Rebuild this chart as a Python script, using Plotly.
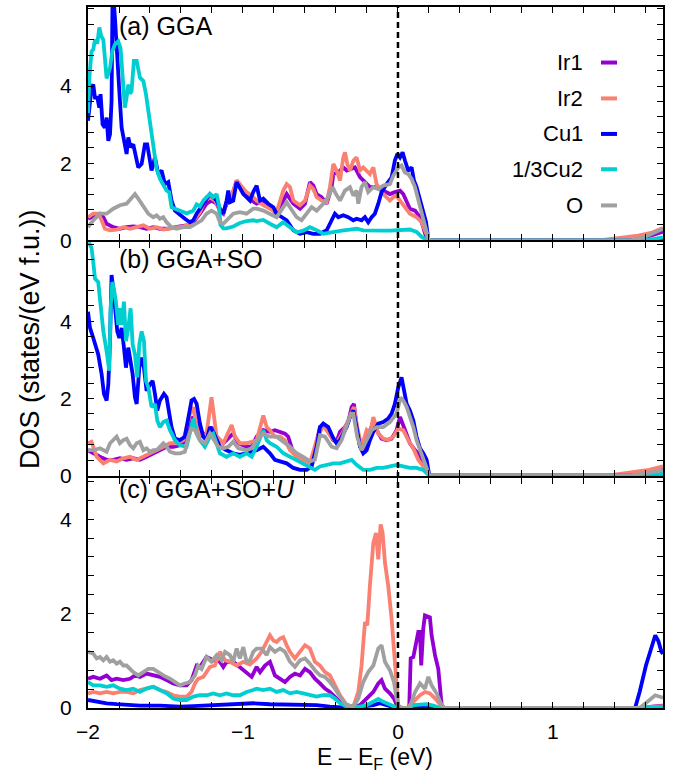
import plotly.graph_objects as go

# ---------------------------------------------------------------------------
# Partial DOS, (energy relative to E_F in eV, states/(eV f.u.)) pairs
# ---------------------------------------------------------------------------

# (a) GGA
ir1_gga = [(-2.000, 0.56), (-1.966, 0.62), (-1.923, 0.69), (-1.901, 0.60), (-1.880, 0.43), (-1.837, 0.34),
           (-1.794, 0.30), (-1.751, 0.34), (-1.708, 0.36), (-1.665, 0.34), (-1.622, 0.30), (-1.579, 0.34),
           (-1.536, 0.30), (-1.493, 0.30), (-1.450, 0.34), (-1.407, 0.36), (-1.364, 0.39), (-1.321, 0.47),
           (-1.278, 0.69), (-1.235, 0.95), (-1.203, 1.03), (-1.170, 0.95), (-1.149, 0.77), (-1.127, 0.69),
           (-1.106, 0.95), (-1.073, 1.12), (-1.041, 1.55), (-1.009, 1.38), (-0.977, 1.20), (-0.944, 1.03),
           (-0.912, 0.95), (-0.869, 1.03), (-0.826, 0.86), (-0.783, 0.69), (-0.740, 1.03), (-0.718, 1.20),
           (-0.675, 0.95), (-0.632, 0.82), (-0.600, 0.95), (-0.568, 1.51), (-0.546, 1.42), (-0.525, 1.20),
           (-0.493, 1.12), (-0.460, 0.95), (-0.428, 1.38), (-0.417, 1.72), (-0.385, 1.76), (-0.353, 1.89),
           (-0.331, 1.81), (-0.310, 1.85), (-0.278, 1.89), (-0.245, 1.64), (-0.213, 1.51), (-0.181, 1.38),
           (-0.138, 1.38), (-0.095, 1.29), (-0.052, 1.20), (-0.020, 1.25), (0.013, 1.29), (0.034, 1.20),
           (0.056, 0.99), (0.077, 0.82), (0.110, 0.77), (0.142, 0.60), (0.163, 0.34), (0.185, 0.04),
           (0.200, 0.00), (1.450, 0.00), (1.550, 0.05), (1.630, 0.12), (1.710, 0.22)]

ir2_gga = [(-2.000, 0.60), (-1.966, 0.69), (-1.934, 0.69), (-1.912, 0.52), (-1.891, 0.30), (-1.858, 0.26),
           (-1.815, 0.28), (-1.772, 0.34), (-1.729, 0.30), (-1.686, 0.34), (-1.643, 0.39), (-1.600, 0.30),
           (-1.557, 0.34), (-1.514, 0.28), (-1.471, 0.30), (-1.428, 0.34), (-1.385, 0.36), (-1.342, 0.43),
           (-1.310, 0.56), (-1.278, 0.73), (-1.246, 1.03), (-1.213, 1.12), (-1.181, 1.03), (-1.149, 0.82),
           (-1.127, 0.73), (-1.106, 0.99), (-1.073, 1.16), (-1.041, 1.55), (-1.009, 1.38), (-0.977, 1.25),
           (-0.944, 1.16), (-0.912, 1.03), (-0.869, 0.91), (-0.826, 0.82), (-0.783, 0.73), (-0.740, 1.29),
           (-0.718, 1.46), (-0.697, 1.38), (-0.675, 1.03), (-0.632, 0.91), (-0.600, 1.03), (-0.568, 1.42),
           (-0.546, 1.33), (-0.525, 1.12), (-0.493, 1.03), (-0.460, 0.99), (-0.439, 1.38), (-0.417, 1.98),
           (-0.396, 1.81), (-0.374, 1.55), (-0.353, 2.15), (-0.342, 2.28), (-0.327, 1.98), (-0.310, 1.81),
           (-0.288, 2.06), (-0.267, 2.15), (-0.245, 1.81), (-0.224, 1.89), (-0.202, 1.81), (-0.181, 1.72),
           (-0.159, 1.89), (-0.138, 1.46), (-0.095, 1.20), (-0.052, 1.03), (-0.030, 1.12), (-0.009, 1.16),
           (0.013, 1.03), (0.034, 0.91), (0.077, 0.69), (0.120, 0.60), (0.153, 0.47), (0.174, 0.26),
           (0.196, 0.04), (0.200, 0.00), (1.300, 0.00), (1.450, 0.06), (1.550, 0.12), (1.640, 0.20),
           (1.710, 0.32)]

cu1_gga = [(-2.000, 3.10), (-1.977, 3.96), (-1.966, 4.04), (-1.955, 3.70), (-1.940, 3.70), (-1.927, 3.44),
           (-1.919, 3.79), (-1.906, 3.01), (-1.891, 2.92), (-1.880, 3.18), (-1.869, 2.58), (-1.858, 2.75),
           (-1.848, 3.61), (-1.841, 6.60), (-1.826, 5.76), (-1.815, 4.90), (-1.805, 4.22), (-1.794, 3.61),
           (-1.783, 2.92), (-1.772, 2.67), (-1.762, 2.49), (-1.751, 2.24), (-1.740, 2.67), (-1.725, 2.41),
           (-1.708, 2.49), (-1.691, 2.15), (-1.676, 1.89), (-1.654, 1.98), (-1.633, 2.49), (-1.618, 2.49),
           (-1.605, 2.15), (-1.590, 1.81), (-1.568, 2.15), (-1.547, 1.72), (-1.525, 1.81), (-1.504, 1.46),
           (-1.482, 1.51), (-1.461, 1.03), (-1.439, 0.77), (-1.407, 0.65), (-1.375, 0.56), (-1.342, 0.47),
           (-1.321, 0.52), (-1.299, 0.69), (-1.278, 0.82), (-1.256, 0.95), (-1.235, 1.08), (-1.213, 1.20),
           (-1.192, 1.12), (-1.170, 1.03), (-1.149, 0.82), (-1.127, 0.69), (-1.106, 1.03), (-1.095, 1.29),
           (-1.084, 0.99), (-1.063, 1.03), (-1.041, 1.51), (-1.020, 1.38), (-0.998, 1.20), (-0.977, 1.12),
           (-0.955, 1.03), (-0.934, 1.25), (-0.912, 1.42), (-0.890, 1.03), (-0.869, 1.08), (-0.837, 0.95),
           (-0.804, 0.86), (-0.783, 0.69), (-0.751, 0.60), (-0.718, 0.52), (-0.675, 0.26), (-0.632, 0.17),
           (-0.589, 0.21), (-0.546, 0.17), (-0.503, 0.17), (-0.460, 0.26), (-0.428, 0.52), (-0.407, 0.69),
           (-0.385, 0.60), (-0.353, 0.65), (-0.321, 0.60), (-0.288, 0.52), (-0.267, 0.56), (-0.235, 0.52),
           (-0.213, 0.60), (-0.192, 0.47), (-0.170, 0.60), (-0.149, 0.69), (-0.127, 0.95), (-0.106, 1.25),
           (-0.073, 1.46), (-0.041, 1.63), (-0.020, 2.07), (-0.004, 2.24), (0.013, 2.15), (0.030, 2.28),
           (0.045, 2.07), (0.066, 1.81), (0.088, 1.89), (0.103, 1.55), (0.120, 1.38), (0.142, 1.03),
           (0.163, 0.69), (0.181, 0.47), (0.190, 0.20), (0.196, 0.00), (1.710, 0.00)]

cu2_gga = [(-2.000, 3.30), (-1.990, 4.30), (-1.977, 4.90), (-1.966, 4.95), (-1.955, 5.20), (-1.940, 5.10),
           (-1.927, 5.52), (-1.915, 5.30), (-1.901, 5.20), (-1.880, 4.20), (-1.858, 4.47), (-1.843, 4.90),
           (-1.826, 5.08), (-1.805, 5.16), (-1.790, 4.99), (-1.772, 4.04), (-1.762, 3.44), (-1.751, 3.70),
           (-1.740, 4.04), (-1.729, 3.80), (-1.719, 3.87), (-1.704, 4.65), (-1.686, 4.65), (-1.665, 4.22),
           (-1.643, 4.13), (-1.626, 3.79), (-1.611, 3.36), (-1.596, 2.92), (-1.579, 2.41), (-1.557, 1.85),
           (-1.536, 1.60), (-1.514, 1.46), (-1.493, 1.29), (-1.476, 1.25), (-1.461, 0.86), (-1.439, 0.82),
           (-1.407, 0.77), (-1.364, 0.70), (-1.321, 0.77), (-1.299, 0.93), (-1.278, 0.88), (-1.256, 1.03),
           (-1.235, 1.12), (-1.213, 1.20), (-1.192, 1.12), (-1.170, 1.20), (-1.155, 0.90), (-1.145, 0.40),
           (-1.127, 0.31), (-1.106, 0.31), (-1.063, 0.36), (-1.020, 0.45), (-0.977, 0.50), (-0.934, 0.52),
           (-0.912, 0.50), (-0.869, 0.53), (-0.826, 0.43), (-0.783, 0.34), (-0.740, 0.47), (-0.697, 0.34),
           (-0.654, 0.21), (-0.611, 0.25), (-0.568, 0.34), (-0.525, 0.26), (-0.482, 0.17), (-0.439, 0.20),
           (-0.396, 0.24), (-0.353, 0.26), (-0.310, 0.28), (-0.267, 0.30), (-0.224, 0.26), (-0.181, 0.25),
           (-0.138, 0.25), (-0.095, 0.25), (-0.052, 0.25), (-0.009, 0.26), (0.034, 0.26), (0.077, 0.28),
           (0.120, 0.22), (0.153, 0.09), (0.185, 0.02), (0.196, 0.00), (1.600, 0.00), (1.710, 0.08)]

o_gga = [(-2.000, 0.34), (-1.966, 0.52), (-1.923, 0.69), (-1.880, 0.69), (-1.837, 0.82), (-1.794, 0.91),
         (-1.751, 0.95), (-1.719, 1.12), (-1.697, 1.20), (-1.676, 1.08), (-1.654, 0.95), (-1.633, 0.86),
         (-1.611, 0.69), (-1.579, 0.60), (-1.557, 0.65), (-1.536, 0.56), (-1.514, 0.60), (-1.493, 0.47),
         (-1.461, 0.34), (-1.428, 0.30), (-1.385, 0.34), (-1.342, 0.34), (-1.299, 0.43), (-1.267, 0.52),
         (-1.235, 0.69), (-1.203, 0.77), (-1.170, 0.69), (-1.149, 0.47), (-1.127, 0.43), (-1.106, 0.52),
         (-1.084, 0.60), (-1.063, 0.69), (-1.020, 0.73), (-0.977, 0.69), (-0.934, 0.82), (-0.912, 0.82),
         (-0.869, 0.77), (-0.826, 0.69), (-0.783, 0.60), (-0.740, 0.86), (-0.718, 0.99), (-0.697, 0.86),
         (-0.654, 0.60), (-0.622, 0.52), (-0.589, 0.69), (-0.557, 0.86), (-0.525, 0.77), (-0.482, 0.95),
         (-0.450, 1.12), (-0.422, 1.38), (-0.400, 1.20), (-0.374, 1.03), (-0.342, 1.29), (-0.310, 1.38),
         (-0.288, 1.16), (-0.267, 1.29), (-0.256, 0.95), (-0.235, 1.38), (-0.213, 1.51), (-0.192, 1.25),
         (-0.159, 1.38), (-0.127, 1.33), (-0.095, 1.42), (-0.052, 1.46), (-0.030, 1.68), (0.002, 1.89),
         (0.023, 1.94), (0.045, 1.76), (0.066, 1.72), (0.088, 1.59), (0.110, 1.38), (0.131, 1.03),
         (0.153, 0.69), (0.174, 0.34), (0.196, 0.04), (0.200, 0.00), (1.500, 0.00), (1.600, 0.10),
         (1.710, 0.30)]

# (b) GGA+SO
ir1_so = [(-2.000, 0.66), (-1.966, 0.58), (-1.923, 0.49), (-1.880, 0.41), (-1.837, 0.41), (-1.794, 0.45),
          (-1.751, 0.41), (-1.708, 0.45), (-1.665, 0.41), (-1.622, 0.49), (-1.579, 0.58), (-1.536, 0.66),
          (-1.493, 0.75), (-1.450, 0.75), (-1.407, 0.79), (-1.364, 0.92), (-1.332, 1.52), (-1.310, 1.43),
          (-1.278, 1.18), (-1.235, 1.01), (-1.203, 1.26), (-1.170, 1.01), (-1.127, 0.84), (-1.084, 1.01),
          (-1.063, 1.09), (-1.030, 0.84), (-0.977, 0.75), (-0.944, 0.75), (-0.912, 1.01), (-0.869, 1.18),
          (-0.826, 1.14), (-0.794, 1.18), (-0.761, 1.14), (-0.729, 1.09), (-0.708, 1.01), (-0.675, 0.58),
          (-0.632, 0.49), (-0.589, 0.41), (-0.557, 0.32), (-0.525, 0.92), (-0.503, 1.26), (-0.482, 1.31),
          (-0.450, 1.14), (-0.417, 0.92), (-0.396, 0.88), (-0.374, 1.14), (-0.342, 1.26), (-0.321, 1.39),
          (-0.299, 1.78), (-0.284, 1.86), (-0.267, 1.26), (-0.245, 0.75), (-0.213, 0.66), (-0.192, 1.09),
          (-0.170, 1.26), (-0.138, 1.18), (-0.106, 0.96), (-0.073, 0.92), (-0.041, 0.96), (-0.009, 1.18),
          (0.013, 1.52), (0.030, 1.35), (0.056, 1.09), (0.077, 0.84), (0.110, 0.66), (0.131, 0.58),
          (0.163, 0.32), (0.185, 0.15), (0.202, 0.00), (1.400, 0.00), (1.550, 0.08), (1.710, 0.20)]

ir2_so = [(-2.000, 0.84), (-1.977, 0.88), (-1.944, 0.49), (-1.901, 0.32), (-1.858, 0.41), (-1.815, 0.37),
          (-1.772, 0.45), (-1.729, 0.49), (-1.686, 0.41), (-1.643, 0.49), (-1.600, 0.58), (-1.557, 0.66),
          (-1.514, 0.75), (-1.471, 0.84), (-1.428, 0.84), (-1.385, 0.92), (-1.342, 1.61), (-1.321, 1.78),
          (-1.299, 1.26), (-1.278, 1.01), (-1.235, 1.09), (-1.203, 2.03), (-1.187, 1.61), (-1.170, 1.01),
          (-1.127, 0.84), (-1.095, 1.09), (-1.073, 1.31), (-1.052, 1.01), (-1.020, 0.84), (-0.977, 0.84),
          (-0.944, 0.88), (-0.912, 0.92), (-0.869, 1.56), (-0.847, 1.26), (-0.826, 1.18), (-0.794, 1.01),
          (-0.761, 1.01), (-0.729, 0.92), (-0.697, 0.66), (-0.654, 0.49), (-0.611, 0.41), (-0.568, 0.32),
          (-0.525, 0.92), (-0.482, 1.31), (-0.439, 1.05), (-0.396, 0.84), (-0.353, 1.14), (-0.310, 1.52),
          (-0.284, 1.78), (-0.263, 1.26), (-0.235, 0.75), (-0.202, 1.18), (-0.181, 1.09), (-0.159, 1.52),
          (-0.127, 1.09), (-0.095, 0.96), (-0.063, 0.92), (-0.030, 1.01), (0.002, 1.22), (0.034, 1.18),
          (0.066, 0.92), (0.099, 0.71), (0.131, 0.41), (0.163, 0.24), (0.185, 0.11), (0.202, 0.00),
          (1.350, 0.00), (1.500, 0.08), (1.620, 0.15), (1.710, 0.24)]

cu1_so = [(-2.000, 4.25), (-1.987, 3.83), (-1.966, 3.57), (-1.949, 3.32), (-1.934, 3.14), (-1.912, 2.63),
          (-1.897, 2.12), (-1.880, 1.95), (-1.869, 2.37), (-1.858, 3.49), (-1.848, 5.20), (-1.837, 4.85),
          (-1.826, 4.34), (-1.811, 3.74), (-1.798, 3.57), (-1.783, 3.83), (-1.768, 3.32), (-1.755, 2.80),
          (-1.740, 3.32), (-1.729, 3.06), (-1.712, 2.63), (-1.697, 2.03), (-1.686, 1.86), (-1.669, 2.80),
          (-1.654, 3.06), (-1.639, 2.80), (-1.622, 2.20), (-1.600, 2.37), (-1.583, 2.46), (-1.568, 2.12),
          (-1.553, 1.69), (-1.536, 1.95), (-1.510, 2.12), (-1.493, 2.03), (-1.476, 1.61), (-1.461, 1.26),
          (-1.439, 0.96), (-1.407, 0.92), (-1.375, 1.01), (-1.353, 1.43), (-1.332, 1.95), (-1.316, 1.99),
          (-1.299, 1.86), (-1.278, 1.35), (-1.256, 1.01), (-1.235, 0.92), (-1.213, 1.26), (-1.192, 1.14),
          (-1.170, 0.92), (-1.149, 0.75), (-1.106, 0.66), (-1.063, 0.58), (-1.020, 0.54), (-0.977, 0.58),
          (-0.944, 0.62), (-0.912, 0.66), (-0.869, 0.75), (-0.826, 0.58), (-0.794, 0.41), (-0.761, 0.37),
          (-0.718, 0.32), (-0.675, 0.20), (-0.632, 0.15), (-0.589, 0.15), (-0.557, 0.24), (-0.525, 0.75),
          (-0.503, 1.26), (-0.482, 1.35), (-0.450, 1.26), (-0.422, 1.01), (-0.396, 0.84), (-0.374, 0.92),
          (-0.353, 1.09), (-0.331, 1.26), (-0.310, 1.52), (-0.288, 1.69), (-0.267, 1.26), (-0.245, 0.75),
          (-0.224, 0.58), (-0.202, 0.66), (-0.181, 0.92), (-0.159, 1.14), (-0.127, 1.35), (-0.095, 1.39),
          (-0.063, 1.48), (-0.041, 1.61), (-0.020, 1.86), (0.002, 2.29), (0.023, 2.55), (0.039, 2.20),
          (0.056, 1.86), (0.077, 1.69), (0.099, 1.43), (0.120, 1.01), (0.142, 0.71), (0.163, 0.58),
          (0.185, 0.41), (0.202, 0.00), (1.710, 0.00)]

cu2_so = [(-2.000, 6.10), (-1.977, 5.90), (-1.966, 5.54), (-1.955, 5.11), (-1.934, 5.02), (-1.923, 4.60),
          (-1.912, 4.25), (-1.901, 3.74), (-1.880, 3.23), (-1.863, 2.72), (-1.854, 4.34), (-1.843, 5.02),
          (-1.833, 4.85), (-1.820, 4.51), (-1.805, 3.91), (-1.794, 4.34), (-1.783, 3.91), (-1.768, 4.51),
          (-1.755, 3.49), (-1.740, 3.83), (-1.725, 4.34), (-1.712, 3.40), (-1.697, 3.14), (-1.682, 2.55),
          (-1.669, 3.40), (-1.654, 3.74), (-1.639, 3.49), (-1.626, 2.46), (-1.611, 2.29), (-1.600, 2.03),
          (-1.590, 1.78), (-1.568, 1.86), (-1.553, 1.43), (-1.536, 1.26), (-1.514, 1.39), (-1.493, 1.43),
          (-1.471, 1.18), (-1.439, 0.92), (-1.407, 0.79), (-1.364, 0.75), (-1.342, 1.18), (-1.321, 1.48),
          (-1.299, 1.09), (-1.278, 0.92), (-1.246, 0.75), (-1.213, 1.01), (-1.192, 1.09), (-1.170, 0.84),
          (-1.149, 0.58), (-1.106, 0.49), (-1.063, 0.58), (-1.020, 0.49), (-0.977, 0.58), (-0.944, 0.49),
          (-0.912, 0.75), (-0.869, 1.18), (-0.847, 0.92), (-0.826, 0.84), (-0.783, 0.75), (-0.740, 0.58),
          (-0.697, 0.49), (-0.654, 0.41), (-0.611, 0.32), (-0.568, 0.24), (-0.536, 0.15), (-0.503, 0.24),
          (-0.460, 0.28), (-0.417, 0.32), (-0.374, 0.32), (-0.331, 0.37), (-0.299, 0.41), (-0.267, 0.28),
          (-0.224, 0.15), (-0.181, 0.15), (-0.138, 0.20), (-0.095, 0.20), (-0.052, 0.24), (-0.009, 0.28),
          (0.034, 0.24), (0.077, 0.20), (0.120, 0.20), (0.163, 0.15), (0.202, 0.00), (1.600, 0.00),
          (1.710, 0.05)]

o_so = [(-2.000, 0.66), (-1.966, 0.66), (-1.923, 0.71), (-1.880, 0.62), (-1.858, 0.84), (-1.837, 0.92),
        (-1.815, 1.01), (-1.794, 0.84), (-1.772, 0.92), (-1.751, 0.96), (-1.729, 0.79), (-1.708, 0.71),
        (-1.686, 0.84), (-1.665, 0.88), (-1.643, 0.66), (-1.622, 0.71), (-1.600, 0.62), (-1.579, 0.66),
        (-1.557, 0.66), (-1.536, 0.75), (-1.514, 0.84), (-1.493, 0.75), (-1.471, 0.62), (-1.439, 0.58),
        (-1.407, 0.58), (-1.375, 0.62), (-1.353, 1.01), (-1.332, 1.22), (-1.310, 1.18), (-1.278, 0.92),
        (-1.246, 0.84), (-1.213, 1.09), (-1.187, 0.92), (-1.159, 0.75), (-1.127, 0.71), (-1.095, 0.75),
        (-1.063, 0.88), (-1.030, 0.71), (-0.977, 0.66), (-0.944, 0.71), (-0.912, 0.92), (-0.869, 1.09),
        (-0.826, 1.01), (-0.783, 1.01), (-0.740, 0.88), (-0.697, 0.75), (-0.654, 0.58), (-0.611, 0.49),
        (-0.568, 0.37), (-0.536, 0.41), (-0.503, 1.05), (-0.471, 1.01), (-0.428, 0.75), (-0.396, 0.71),
        (-0.364, 0.92), (-0.331, 1.31), (-0.303, 1.61), (-0.288, 1.61), (-0.263, 1.01), (-0.235, 0.66),
        (-0.202, 0.92), (-0.170, 1.18), (-0.138, 1.26), (-0.095, 1.26), (-0.052, 1.39), (-0.009, 1.61),
        (0.017, 2.03), (0.034, 1.95), (0.056, 1.78), (0.077, 1.52), (0.099, 1.26), (0.120, 0.92),
        (0.153, 0.58), (0.174, 0.32), (0.202, 0.00), (1.500, 0.00), (1.620, 0.08), (1.710, 0.15)]

# (c) GGA+SO+U
ir1_sou = [(-2.000, 0.62), (-1.966, 0.66), (-1.923, 0.62), (-1.880, 0.69), (-1.848, 0.59), (-1.815, 0.62),
           (-1.772, 0.59), (-1.729, 0.62), (-1.697, 0.69), (-1.665, 0.66), (-1.622, 0.73), (-1.579, 0.69),
           (-1.536, 0.66), (-1.493, 0.59), (-1.450, 0.52), (-1.407, 0.48), (-1.364, 0.48), (-1.332, 0.59),
           (-1.299, 0.90), (-1.278, 0.87), (-1.235, 1.08), (-1.192, 1.01), (-1.149, 0.98), (-1.127, 0.87),
           (-1.106, 0.98), (-1.063, 0.98), (-1.020, 0.87), (-0.977, 0.76), (-0.944, 0.66), (-0.912, 0.87),
           (-0.890, 0.76), (-0.858, 0.90), (-0.826, 0.98), (-0.794, 0.69), (-0.761, 0.62), (-0.729, 0.55),
           (-0.697, 0.66), (-0.665, 0.73), (-0.632, 0.69), (-0.600, 0.83), (-0.568, 0.76), (-0.536, 0.62),
           (-0.503, 0.52), (-0.471, 0.41), (-0.439, 0.34), (-0.407, 0.24), (-0.374, 0.13), (-0.331, 0.06),
           (-0.288, 0.03), (-0.245, 0.06), (-0.202, 0.20), (-0.159, 0.34), (-0.127, 0.52), (-0.106, 0.59),
           (-0.084, 0.41), (-0.052, 0.31), (-0.026, 0.20), (-0.004, 0.03), (0.030, 0.00), (0.066, 0.00),
           (0.073, 0.06), (0.082, 1.05), (0.099, 1.08), (0.120, 1.40), (0.131, 1.61), (0.142, 1.61),
           (0.150, 0.90), (0.163, 1.68), (0.174, 1.96), (0.206, 1.92), (0.217, 1.54), (0.239, 1.12),
           (0.260, 0.83), (0.282, 0.06), (0.300, 0.00), (1.550, 0.00), (1.710, 0.05)]

ir2_sou = [(-2.000, 0.31), (-1.966, 0.34), (-1.923, 0.31), (-1.880, 0.34), (-1.837, 0.31), (-1.794, 0.34),
           (-1.751, 0.34), (-1.708, 0.31), (-1.665, 0.38), (-1.622, 0.41), (-1.579, 0.45), (-1.536, 0.38),
           (-1.493, 0.34), (-1.450, 0.27), (-1.407, 0.24), (-1.364, 0.24), (-1.332, 0.34), (-1.310, 0.52),
           (-1.289, 0.62), (-1.256, 0.66), (-1.213, 0.87), (-1.181, 0.90), (-1.149, 1.19), (-1.116, 1.01),
           (-1.084, 0.98), (-1.041, 0.90), (-0.998, 0.98), (-0.955, 0.92), (-0.912, 1.05), (-0.880, 1.19),
           (-0.858, 1.33), (-0.826, 1.54), (-0.804, 1.43), (-0.783, 1.40), (-0.761, 1.47), (-0.740, 1.50),
           (-0.718, 1.33), (-0.697, 1.19), (-0.665, 1.05), (-0.632, 1.19), (-0.600, 1.33), (-0.568, 1.26),
           (-0.536, 0.98), (-0.503, 0.90), (-0.471, 0.76), (-0.439, 0.69), (-0.407, 0.48), (-0.374, 0.27),
           (-0.331, 0.06), (-0.288, 0.03), (-0.256, 0.34), (-0.235, 0.90), (-0.213, 1.82), (-0.198, 1.75),
           (-0.181, 2.59), (-0.159, 3.50), (-0.142, 3.71), (-0.127, 3.15), (-0.112, 3.89), (-0.099, 3.71),
           (-0.084, 3.08), (-0.063, 2.59), (-0.041, 1.89), (-0.026, 1.19), (-0.009, 0.41), (0.002, 0.03),
           (0.030, 0.00), (0.066, 0.00), (0.077, 0.06), (0.142, 0.27), (0.174, 0.34), (0.206, 0.31),
           (0.249, 0.17), (0.282, 0.03), (0.300, 0.00), (1.550, 0.00), (1.710, 0.04)]

cu1_sou = [(-2.000, 0.17), (-1.944, 0.13), (-1.880, 0.10), (-1.815, 0.08), (-1.751, 0.06), (-1.665, 0.05),
           (-1.536, 0.05), (-1.407, 0.03), (-1.321, 0.04), (-1.213, 0.06), (-1.106, 0.06), (-0.998, 0.08),
           (-0.934, 0.10), (-0.826, 0.08), (-0.740, 0.08), (-0.632, 0.06), (-0.525, 0.06), (-0.439, 0.03),
           (-0.310, 0.00), (-0.159, 0.06), (-0.116, 0.10), (-0.073, 0.06), (-0.009, 0.00), (1.530, 0.00),
           (1.560, 0.35), (1.600, 0.90), (1.630, 1.25), (1.660, 1.54), (1.680, 1.42), (1.700, 1.19),
           (1.710, 1.15)]

cu2_sou = [(-2.000, 0.55), (-1.966, 0.48), (-1.923, 0.48), (-1.880, 0.45), (-1.837, 0.48), (-1.794, 0.41),
           (-1.751, 0.38), (-1.708, 0.41), (-1.665, 0.34), (-1.622, 0.41), (-1.579, 0.45), (-1.536, 0.38),
           (-1.493, 0.31), (-1.450, 0.20), (-1.407, 0.17), (-1.364, 0.17), (-1.321, 0.24), (-1.278, 0.27),
           (-1.235, 0.27), (-1.192, 0.31), (-1.149, 0.27), (-1.106, 0.31), (-1.063, 0.27), (-1.020, 0.27),
           (-0.977, 0.34), (-0.934, 0.38), (-0.912, 0.41), (-0.869, 0.38), (-0.826, 0.41), (-0.783, 0.34),
           (-0.740, 0.38), (-0.697, 0.31), (-0.654, 0.34), (-0.611, 0.31), (-0.568, 0.27), (-0.525, 0.24),
           (-0.482, 0.27), (-0.439, 0.27), (-0.407, 0.20), (-0.374, 0.10), (-0.331, 0.03), (-0.245, 0.03),
           (-0.202, 0.06), (-0.159, 0.13), (-0.127, 0.19), (-0.095, 0.13), (-0.052, 0.06), (-0.009, 0.01),
           (0.030, 0.00), (0.073, 0.00), (0.099, 0.06), (0.142, 0.08), (0.185, 0.08), (0.228, 0.05),
           (0.271, 0.00), (1.600, 0.00), (1.710, 0.03)]

o_sou = [(-2.000, 1.19), (-1.966, 1.15), (-1.944, 1.05), (-1.923, 1.08), (-1.901, 1.01), (-1.880, 1.08),
         (-1.858, 0.98), (-1.837, 1.01), (-1.815, 0.94), (-1.794, 0.98), (-1.772, 0.90), (-1.751, 0.90),
         (-1.729, 0.83), (-1.708, 0.76), (-1.676, 0.69), (-1.643, 0.76), (-1.611, 0.83), (-1.579, 0.83),
         (-1.547, 0.76), (-1.514, 0.69), (-1.471, 0.62), (-1.439, 0.55), (-1.407, 0.48), (-1.375, 0.52),
         (-1.342, 0.55), (-1.310, 0.69), (-1.289, 0.90), (-1.267, 0.83), (-1.235, 1.08), (-1.203, 0.98),
         (-1.170, 1.12), (-1.138, 1.01), (-1.116, 1.19), (-1.084, 1.12), (-1.063, 0.98), (-1.041, 1.26),
         (-1.020, 1.05), (-0.998, 1.29), (-0.977, 0.98), (-0.955, 1.01), (-0.934, 1.19), (-0.912, 1.26),
         (-0.880, 1.26), (-0.847, 1.12), (-0.826, 1.29), (-0.794, 1.19), (-0.761, 1.26), (-0.729, 1.19),
         (-0.697, 0.98), (-0.665, 0.87), (-0.632, 1.01), (-0.600, 1.05), (-0.568, 0.94), (-0.536, 0.80),
         (-0.503, 0.69), (-0.471, 0.66), (-0.439, 0.55), (-0.407, 0.41), (-0.374, 0.24), (-0.331, 0.06),
         (-0.288, 0.03), (-0.256, 0.20), (-0.224, 0.55), (-0.192, 0.76), (-0.159, 0.90), (-0.127, 1.26),
         (-0.106, 1.33), (-0.084, 0.98), (-0.052, 0.80), (-0.026, 0.55), (-0.009, 0.20), (0.006, 0.03),
         (0.030, 0.00), (0.066, 0.00), (0.077, 0.03), (0.110, 0.34), (0.142, 0.52), (0.174, 0.41),
         (0.196, 0.66), (0.217, 0.48), (0.249, 0.31), (0.282, 0.06), (0.300, 0.00), (1.560, 0.00),
         (1.620, 0.15), (1.660, 0.27), (1.710, 0.22)]

SPECIES = ["Ir1", "Ir2", "Cu1", "1/3Cu2", "O"]
COLORS = ["#9400D3", "#FA8072", "#0000FF", "#00CED1", "#A0A0A0"]
PANEL_TITLES = ["(a) GGA", "(b) GGA+SO", "(c) GGA+SO+<i>U</i>"]
E_RANGE = [-2.0, 1.71]
Y_TOP = [6.05, 6.05, 4.88]
X_TICK_LABELS = {-2.0: "\u22122", -1.0: "\u22121", 0.0: "0", 1.0: "1"}
Y_TICK_LABELS = {0.0: "0", 2.0: "2", 4.0: "4"}

panel_data = [
    [ir1_gga, ir2_gga, cu1_gga, cu2_gga, o_gga],
    [ir1_so, ir2_so, cu1_so, cu2_so, o_so],
    [ir1_sou, ir2_sou, cu1_sou, cu2_sou, o_sou],
]

# ---------------------------------------------------------------------------
# Geometry: three stacked panels sharing the energy axis
# ---------------------------------------------------------------------------
W, H = 680, 775
ML, MR, MT, MB = 88, 17, 5, 67
PW, PH = W - ML - MR, H - MT - MB
LINE_W = 2
# (top, bottom) of each panel in pixels; neighbouring panels leave a gap of
# one frame-line width so that their shared border lines fall on one spot
panel_px = [(MT, 239), (241, 475), (477, H - MB)]


def py(ypx):
    return (H - MB - ypx) / PH


def px(xpx):
    return (xpx - ML) / PW


domains = [[py(b), py(t)] for t, b in panel_px]
# axis suffixes: panel (a) top -> "3", (b) -> "2", (c) bottom -> ""
suffix = ["3", "2", ""]

FONT = "Liberation Sans, Arial, Helvetica, sans-serif"

fig = go.Figure()

for p, series in enumerate(panel_data):
    for name, color, pts in zip(SPECIES, COLORS, series):
        e, d = zip(*pts)
        fig.add_trace(go.Scatter(
            x=list(e), y=list(d), mode="lines", name=name,
            line=dict(color=color, width=3.8),
            xaxis="x" + suffix[p], yaxis="y" + suffix[p],
            showlegend=False, hoverinfo="skip",
        ))

xt = [round(-2.0 + 0.2 * i, 1) for i in range(19)]
xtext = [X_TICK_LABELS.get(v, "") for v in xt]

axis_style = dict(
    showline=True, linewidth=LINE_W, linecolor="black", mirror="ticks",
    ticks="inside", ticklen=6, tickwidth=1.2, tickcolor="black",
    showgrid=False, zeroline=False,
)

layout_axes = {}
for p in range(3):
    s = suffix[p]
    xs = dict(axis_style, anchor="y" + s, domain=[0, 1], range=E_RANGE,
              tickmode="array", tickvals=xt, ticktext=xtext)
    if s:
        xs.update(matches="x", showticklabels=False)
    else:
        xs.update(tickfont=dict(size=21, family=FONT), ticklabelstandoff=4)
    yt = [round(0.4 * i, 1) for i in range(int(Y_TOP[p] / 0.4) + 1)]
    ytext = [Y_TICK_LABELS.get(v, "") for v in yt]
    ys = dict(axis_style, anchor="x" + s, domain=domains[p], range=[0, Y_TOP[p]],
              tickmode="array", tickvals=yt, ticktext=ytext,
              tickfont=dict(size=21, family=FONT), ticklabelstandoff=10)
    layout_axes["xaxis" + s] = xs
    layout_axes["yaxis" + s] = ys

annotations = []
label_ypx = [24, 258, 488.5]
for p in range(3):
    annotations.append(dict(
        text=PANEL_TITLES[p], xref="paper", yref="paper",
        x=px(117), y=py(label_ypx[p]), xanchor="left", yanchor="middle",
        showarrow=False, font=dict(size=25, family=FONT, color="black"),
    ))

legend_ypx = [60.7, 96.7, 132.3, 167.7, 204.0]
shapes = []
for name, color, ly in zip(SPECIES, COLORS, legend_ypx):
    annotations.append(dict(
        text=name, xref="paper", yref="paper", x=px(585), y=py(ly),
        xanchor="right", yanchor="middle", showarrow=False,
        font=dict(size=22, family=FONT, color="black"),
    ))
    shapes.append(dict(
        type="line", xref="paper", yref="paper",
        x0=px(601), x1=px(617), y0=py(ly), y1=py(ly),
        line=dict(color=color, width=4),
    ))

# Fermi level marker across all panels
shapes.append(dict(
    type="line", xref="x", yref="paper", x0=0, x1=0, y0=0, y1=1,
    line=dict(color="black", width=2.5, dash="6px,4px"), layer="above",
))

annotations.append(dict(
    text="E \u2013 E<sub>F</sub> (eV)", xref="paper", yref="paper",
    x=px(374.5), y=py(775), xanchor="center", yanchor="bottom",
    showarrow=False, font=dict(size=23, family=FONT, color="black"),
))
annotations.append(dict(
    text="DOS (states/(eV f.u.))", xref="paper", yref="paper",
    x=px(30), y=py(338), xanchor="center", yanchor="middle", textangle=-90,
    showarrow=False, font=dict(size=27, family=FONT, color="black"),
))

fig.update_layout(
    width=W, height=H,
    margin=dict(l=ML, r=MR, t=MT, b=MB),
    paper_bgcolor="white", plot_bgcolor="white",
    font=dict(family=FONT, size=21, color="black"),
    showlegend=False,
    annotations=annotations, shapes=shapes,
    **layout_axes,
)

fig.write_html("out.html")
